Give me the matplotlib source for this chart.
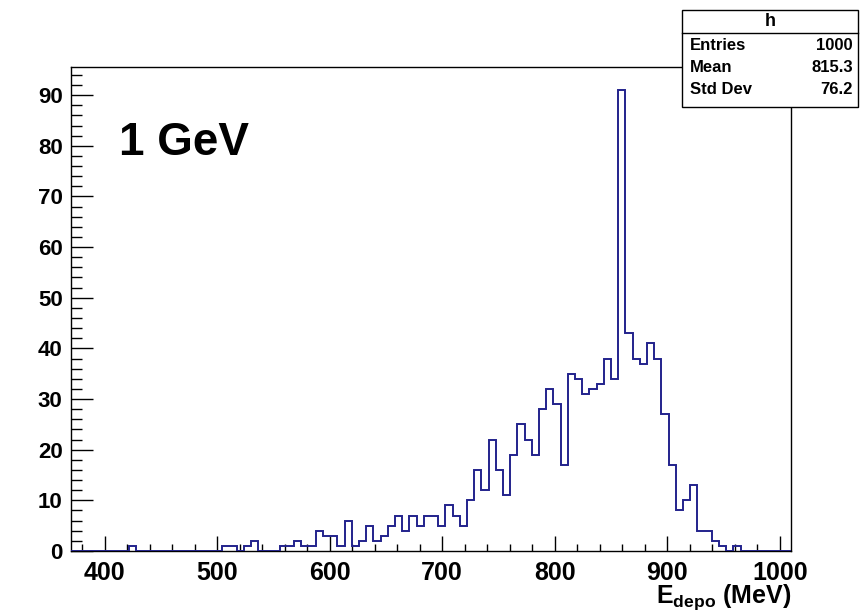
import numpy as np
import matplotlib
matplotlib.use('Agg')
import matplotlib.pyplot as plt
from matplotlib.ticker import MultipleLocator
from matplotlib.patches import Rectangle

plt.rcParams['font.family'] = ['Liberation Sans', 'DejaVu Sans']
plt.rcParams['font.weight'] = 'bold'
plt.rcParams['mathtext.fontset'] = 'custom'
plt.rcParams['mathtext.rm'] = 'Liberation Sans:bold'
plt.rcParams['mathtext.bf'] = 'Liberation Sans:bold'

# histogram binning: 100 bins between 370 and 1010 MeV
hist_lo, hist_hi, n_bins = 370, 1010, 100

# counts per bin (bin 0 .. 99)
counts = [0, 0, 0, 0, 0, 0, 0, 0, 1, 0,
          0, 0, 0, 0, 0, 0, 0, 0, 0, 0,
          0, 1, 1, 0, 1, 2, 0, 0, 0, 1,
          1, 2, 1, 1, 4, 3, 3, 1, 6, 1,
          2, 5, 2, 3, 5, 7, 4, 7, 5, 7,
          7, 5, 9, 7, 5, 10, 16, 12, 22, 16,
          11, 19, 25, 22, 19, 28, 32, 29, 17, 35,
          34, 31, 32, 33, 38, 34, 91, 43, 38, 37,
          41, 38, 27, 17, 8, 10, 13, 4, 4, 2,
          1, 0, 1, 0, 0, 0, 0, 0, 0, 0]

stat_names = ['Entries', 'Mean', 'Std Dev']
stat_values = ['1000', '815.3', '76.2']

edges = np.linspace(hist_lo, hist_hi, n_bins + 1)

fig = plt.figure(figsize=(8.61, 6.16), dpi=100)
ax = fig.add_axes([71 / 861, 65 / 616, 720 / 861, 484 / 616])

ax.stairs(counts, edges, color='#23238c', linewidth=1.4, zorder=3)

ax.set_xlim(hist_lo, hist_hi)
ax.set_ylim(0, max(counts) * 1.05)

# ROOT style axes: ticks inside, only on bottom and left
ax.xaxis.set_major_locator(MultipleLocator(100))
ax.xaxis.set_minor_locator(MultipleLocator(20))
ax.yaxis.set_major_locator(MultipleLocator(10))
ax.yaxis.set_minor_locator(MultipleLocator(2))
ax.tick_params(axis='x', which='major', direction='in', length=11, width=1,
               labelsize=18, pad=7)
ax.tick_params(axis='x', which='minor', direction='in', length=5, width=1)
ax.tick_params(axis='y', which='major', direction='in', length=16, width=1,
               labelsize=16, pad=6)
ax.tick_params(axis='y', which='minor', direction='in', length=8, width=1)
for s in ax.spines.values():
    s.set_linewidth(1)

# axis title, right aligned under the axis end
ax.text(1.0, -0.106, r'$\mathbf{E_{depo}}$ (MeV)', transform=ax.transAxes,
        ha='right', va='baseline', fontsize=18, fontweight='bold')

ax.text(0.066, 0.842, '1 GeV', transform=ax.transAxes, ha='left',
        va='center', fontsize=33, fontweight='bold')

# statistics box in the top right corner
bx0, bx1 = 682 / 861, 858 / 861
by_top, by_bot = 1 - 10 / 616, 1 - 107 / 616
fig.patches.append(Rectangle((bx0, by_bot), bx1 - bx0, by_top - by_bot,
                             transform=fig.transFigure, facecolor='white',
                             edgecolor='black', linewidth=1, zorder=5))
head_y = 1 - 33 / 616
fig.add_artist(plt.Line2D([bx0, bx1], [head_y, head_y], color='black',
                          linewidth=1, transform=fig.transFigure, zorder=6))
fig.text((bx0 + bx1) / 2, 1 - 22 / 616, 'h', ha='center', va='center',
         fontsize=13, fontweight='bold', zorder=7)
for i, (name, val) in enumerate(zip(stat_names, stat_values)):
    y = 1 - (46 + 22 * i) / 616
    fig.text(690 / 861, y, name, ha='left', va='center', fontsize=12,
             fontweight='bold', zorder=7)
    fig.text(853 / 861, y, val, ha='right', va='center', fontsize=12,
             fontweight='bold', zorder=7)

fig.savefig('out.png', dpi=100)
